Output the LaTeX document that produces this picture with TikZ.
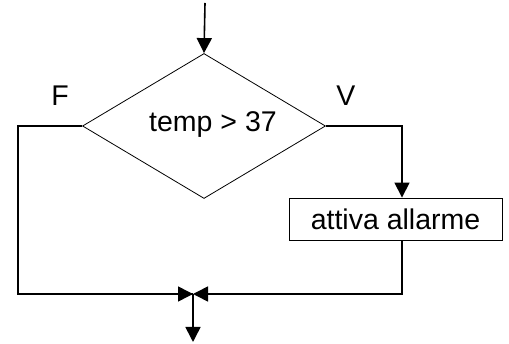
\documentclass[tikz,border=0pt]{standalone}
\usepackage{fontspec}
\setmainfont{Liberation Sans}
\usetikzlibrary{shapes.geometric,arrows.meta}
\begin{document}
\begin{tikzpicture}[x=1pt,y=-1pt,
  flow/.style={line width=1.6pt},
  tip/.style={-{Triangle[length=15pt,width=15pt]}},
  dia/.style={draw,line width=0.8pt,diamond,inner sep=0pt,minimum width=243pt,minimum height=145pt},
  procbox/.style={draw,line width=0.9pt,rectangle,inner sep=0pt,minimum width=213pt,minimum height=42pt},
  txt/.style={font=\fontsize{28.5}{32}\selectfont,inner sep=0pt}]
\useasboundingbox (0,0) rectangle (509,344);
\coordinate (start) at (205,3);
\node[dia] (d) at (204,126) {};
\node[txt] (cond) at (213,125) {temp > 37};
\node[txt] (f) at (60,96) {F};
\node[txt] (v) at (346,96) {V};
\node[procbox,txt,draw] (box) at (395.5,219) {attiva allarme};
\coordinate (j) at (193,294);
\coordinate (endp) at (193,342);
\coordinate (lc) at (18,126);
\coordinate (rc) at (402,126);
\draw[flow,tip] (start) -- (d.north);
\draw[flow] (d.west) -- (lc) -- (lc |- j) -- ([xshift=-0.5pt]j);
\draw[flow,tip] (lc |- j) -- (j);
\draw[flow,tip] (d.east) -- (rc) -- (rc |- box.north);
\draw[flow,tip] (rc |- box.south) -- (rc |- j) -- (j);
\draw[flow,tip] (j) -- (endp);
\end{tikzpicture}
\end{document}
